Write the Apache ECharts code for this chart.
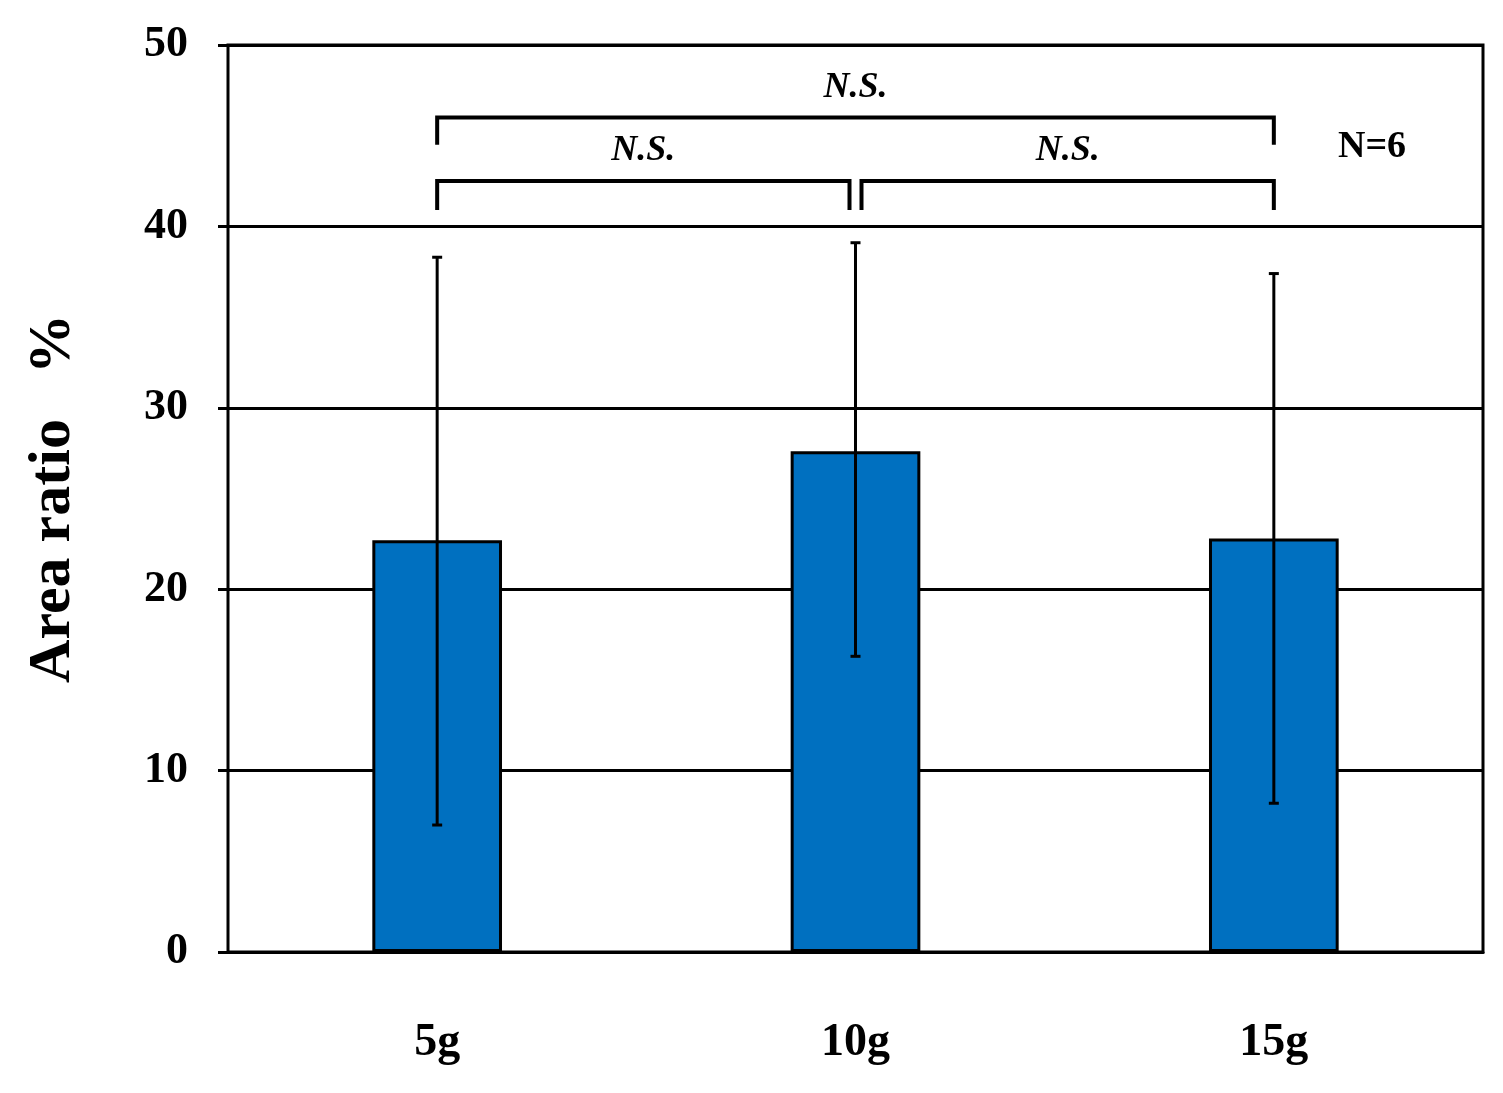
<!DOCTYPE html>
<html>
<head>
<meta charset="utf-8">
<script src="https://cdn.jsdelivr.net/npm/echarts@6/dist/echarts.min.js"></script>
<style>
  html, body { margin: 0; padding: 0; background: #fff; }
  #chart { width: 1503px; height: 1093px; }
</style>
</head>
<body>
<div id="chart"></div>
<script>
// data
const categories = ['5g', '10g', '15g'];
const means = [22.7, 27.6, 22.8];
const errLow = [7.0, 16.3, 8.2];
const errHigh = [38.3, 39.1, 37.4];
// brackets: [from index, to index, y level, leg bottom, label]
const brackets = [
  [0, 1, 42.5, 40.9, 'N.S.'],
  [1, 2, 42.5, 40.9, 'N.S.'],
  [0, 2, 46.0, 44.5, 'N.S.']
];
const nLabel = 'N=6';

const font = 'Liberation Serif';
let chart = echarts.init(document.getElementById('chart'));

let option = {
  animation: false,
  grid: { left: 228, right: 20, top: 45, bottom: 141, show: true, borderColor: '#000', borderWidth: 3 },
  xAxis: {
    type: 'category',
    data: categories,
    axisLine: { lineStyle: { color: '#000', width: 3 } },
    axisTick: { show: false },
    axisLabel: { color: '#000', fontFamily: font, fontWeight: 'bold', fontSize: 46, margin: 68 }
  },
  yAxis: {
    type: 'value',
    min: 0, max: 50, interval: 10,
    name: 'Area ratio   %',
    nameLocation: 'middle',
    nameGap: 145,
    nameTextStyle: { color: '#000', fontFamily: font, fontWeight: 'bold', fontSize: 60 },
    axisLine: { show: false },
    axisTick: { show: true, length: 10, lineStyle: { color: '#000', width: 3 } },
    axisLabel: { color: '#000', fontFamily: font, fontWeight: 'bold', fontSize: 44, margin: 40 },
    splitLine: { lineStyle: { color: '#000', width: 3 } }
  },
  series: [
    {
      type: 'bar',
      data: means,
      barWidth: '31%',
      itemStyle: { color: '#0070C0', borderColor: '#000', borderWidth: 3 }
    },
    {
      type: 'custom',
      data: categories.map((c, i) => [i, errLow[i], errHigh[i]]),
      z: 10,
      renderItem: function (params, api) {
        let lo = api.coord([api.value(0), api.value(1)]);
        let hi = api.coord([api.value(0), api.value(2)]);
        let st = { stroke: '#000', lineWidth: 3 };
        return { type: 'group', children: [
          { type: 'line', shape: { x1: hi[0], y1: hi[1], x2: lo[0], y2: lo[1] }, style: st },
          { type: 'line', shape: { x1: hi[0] - 5, y1: hi[1], x2: hi[0] + 5, y2: hi[1] }, style: st },
          { type: 'line', shape: { x1: lo[0] - 5, y1: lo[1], x2: lo[0] + 5, y2: lo[1] }, style: st }
        ]};
      }
    },
    {
      type: 'custom',
      data: brackets,
      z: 10,
      renderItem: function (params, api) {
        let b = brackets[params.dataIndex];
        let a = api.coord([b[0], b[2]]);
        let c = api.coord([b[1], b[2]]);
        let bot = api.coord([b[0], b[3]])[1];
        let x1 = a[0] + (b[0] === 1 ? 6 : 0);
        let x2 = c[0] - (b[1] === 1 ? 6 : 0);
        let st = { stroke: '#000', lineWidth: 4, fill: null };
        return { type: 'group', children: [
          { type: 'polyline', shape: { points: [[x1, bot], [x1, a[1]], [x2, a[1]], [x2, bot]] }, style: st },
          { type: 'text', style: { text: b[4], x: (x1 + x2) / 2, y: a[1] - 12, align: 'center', verticalAlign: 'bottom',
            font: 'italic bold 36px "Liberation Serif"', fill: '#000' } }
        ]};
      }
    }
  ],
  graphic: [
    { type: 'text', left: 1338, top: 128, style: { text: nLabel, font: 'bold 38px "Liberation Serif"', fill: '#000' } }
  ]
};
chart.setOption(option);
</script>
</body>
</html>
